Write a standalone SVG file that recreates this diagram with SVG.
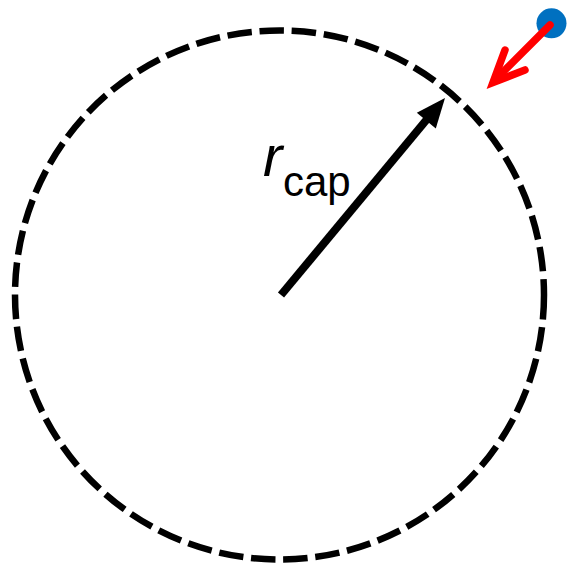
<svg xmlns="http://www.w3.org/2000/svg" width="567" height="564" viewBox="0 0 567 564">
<style>
.ring{fill:none;stroke:#000;stroke-width:6.5;stroke-dasharray:24.5 7.76}
.lbl{font-family:"Liberation Sans",Arial,sans-serif;fill:#000}
</style>
<rect width="567" height="564" fill="#fff"/>
<g id="capture-circle">
<circle class="ring" cx="279.5" cy="295" r="264.5"/>
</g>
<g id="particle">
<circle cx="551.5" cy="23.3" r="15" fill="#0070C0"/>
</g>
<g id="connectors">
<line x1="281" y1="295" x2="428" y2="118" stroke="#000" stroke-width="8"/>
<polygon points="445,98 435.8,128.4 416.8,112.8" fill="#000"/>
<line x1="550" y1="25" x2="496" y2="79" stroke="#f00" stroke-width="7.5" stroke-linecap="round"/>
<polyline points="505,50 493,82.5 525,70" fill="none" stroke="#f00" stroke-width="7.5" stroke-linecap="round" stroke-linejoin="miter"/>
</g>
<g id="label">
<text class="lbl" x="263" y="176" font-size="58" font-style="italic">r</text>
<text class="lbl" x="283" y="196" font-size="42">cap</text>
</g>
</svg>
